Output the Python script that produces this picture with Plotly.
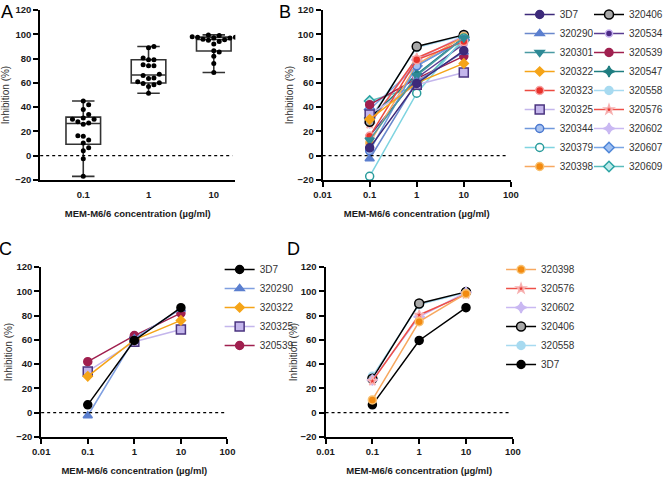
import numpy as np
import plotly.graph_objects as go

# ---------------- data ----------------
isolates = ["3D7", "320290", "320301", "320322", "320323", "320325", "320344", "320379", "320398",
            "320406", "320534", "320539", "320547", "320558", "320576", "320602", "320607", "320609"]
concentrations = [0.1, 1, 10]
conc_labels = ["0.1", "1", "10"]
inhibition_01 = [6.5, -2.5, 13, 30, 16, 34, 4, -17, 10.5, 28, 16.5, 42, 31, 30, 26, 27, 38, 45]
inhibition_1 = [59.5, 61, 66, 60, 79, 58.5, 74, 51.5, 75, 90, 64, 63.5, 67, 89, 80.5, 79, 74, 57]
inhibition_10 = [86.5, 85.5, 97, 76, 94, 68.5, 95.5, 97, 98, 99.5, 92, 82, 97.5, 99, 97.5, 99, 96, 95]
panel_c_isolates = ["3D7", "320290", "320322", "320325", "320539"]
panel_d_isolates = ["320398", "320576", "320602", "320406", "320558", "3D7"]
x_ticks = [0.01, 0.1, 1, 10, 100]
y_ticks = [-20, 0, 20, 40, 60, 80, 100, 120]

# ---------------- styles ----------------
S = {  # marker symbol, fill, border, line colour, size
    "3D7":    dict(sym="circle", fill="#3d2a7a", border="#3d2a7a", line="#3d2a7a", size=8),
    "320290": dict(sym="triangle-up", fill="#5b7fcf", border="#5b7fcf", line="#6a88cc", size=8),
    "320301": dict(sym="triangle-down", fill="#2f8a96", border="#2f8a96", line="#4a9aa3", size=8),
    "320322": dict(sym="diamond", fill="#f5a418", border="#f5a418", line="#f5a418", size=7),
    "320323": dict(sym="circle", fill="#e8322b", border="#f6a0a0", line="#ec4a40", size=8),
    "320325": dict(sym="square", fill="#c4b6ec", border="#4b3580", line="#c4b6ec", size=9),
    "320344": dict(sym="circle", fill="#a9c3f0", border="#4a78cf", line="#6f98dc", size=8),
    "320379": dict(sym="circle", fill="#ffffff", border="#2a9c9c", line="#7fd4e0", size=8),
    "320398": dict(sym="circle", fill="#f28a10", border="#f8c070", line="#f7a860", size=8),
    "320406": dict(sym="circle", fill="#a8a8a8", border="#000000", line="#000000", size=9),
    "320534": dict(sym="circle", fill="#4b2a86", border="#c7b3ef", line="#5a3c92", size=7),
    "320539": dict(sym="circle", fill="#a0204f", border="#a0204f", line="#a0204f", size=8),
    "320547": dict(sym="star-diamond", fill="#1f7d80", border="#1f7d80", line="#1f7d80", size=8),
    "320558": dict(sym="circle", fill="#a7daf0", border="#a7daf0", line="#a7daf0", size=8),
    "320576": dict(sym="star", fill="#e8322b", border="#f7b0b0", line="#ee5048", size=7),
    "320602": dict(sym="star-diamond", fill="#c9b8f2", border="#c9b8f2", line="#c9b8f2", size=8),
    "320607": dict(sym="diamond", fill="#9fc0f2", border="#4f86d8", line="#7aa6e4", size=8),
    "320609": dict(sym="diamond", fill="#bdeaea", border="#2aa3a3", line="#5cbcbc", size=8),
}
C_OVERRIDE = {"3D7": dict(fill="#000000", border="#000000", line="#000000"),
              "320290": dict(line="#7f9fe0")}
D_OVERRIDE = {"3D7": dict(fill="#000000", border="#000000", line="#000000")}

FONT = "Liberation Sans, Arial, sans-serif"
W, H = 668, 481

def px_x(a, b):
    return [a / W, b / W]

def px_y(top, bottom):
    return [1 - bottom / H, 1 - top / H]

values = {iso: [inhibition_01[i], inhibition_1[i], inhibition_10[i]] for i, iso in enumerate(isolates)}

fig = go.Figure()

# ---------------- panel A: box + scatter ----------------
cols = [inhibition_01, inhibition_1, inhibition_10]
q1, med, q3, lo, hi = [], [], [], [], []
for c in cols:
    a = np.array(c, dtype=float)
    q1.append(float(np.percentile(a, 25, method="weibull")))
    med.append(float(np.percentile(a, 50, method="weibull")))
    q3.append(float(np.percentile(a, 75, method="weibull")))
    lo.append(float(a.min()))
    hi.append(float(a.max()))
cat_pos = list(range(len(concentrations)))
fig.add_trace(go.Box(x=cat_pos, q1=q1, median=med, q3=q3, lowerfence=lo, upperfence=hi,
                     width=0.53, whiskerwidth=0.65, fillcolor="white",
                     line=dict(color="#333333", width=1.6), boxpoints=False,
                     showlegend=False, xaxis="x", yaxis="y", hoverinfo="skip"))

# beeswarm offsets computed from the data
px_cat, px_unit, dot = 66.5, 170 / 140, 5.0
bx, by = [], []
for ci, c in enumerate(cols):
    placed = []
    for v in sorted(c):
        cands = [0]
        for j in range(1, 12):
            cands += [j * 5.5, -j * 5.5]
        for off in cands:
            ok = all(((off - po) ** 2 + ((v - pv) * px_unit) ** 2) ** 0.5 >= dot for po, pv in placed)
            if ok:
                placed.append((off, v))
                break
    for off, v in placed:
        bx.append(ci + off / px_cat)
        by.append(v)
fig.add_trace(go.Scatter(x=bx, y=by, mode="markers", marker=dict(color="black", size=5),
                         showlegend=False, xaxis="x", yaxis="y", hoverinfo="skip"))

# ---------------- line panels ----------------
def add_series(iso, rank, xa, ya, legend, override=None):
    st = dict(S[iso])
    if override and iso in override:
        st.update(override[iso])
    fig.add_trace(go.Scatter(
        x=concentrations, y=values[iso], mode="lines+markers", name=iso, legendrank=rank,
        line=dict(color=st["line"], width=1.5),
        marker=dict(symbol=st["sym"], color=st["fill"], size=st["size"],
                    line=dict(color=st["border"], width=1.5)),
        xaxis=xa, yaxis=ya, legend=legend))

# first data set drawn on top (added last)
for i, iso in reversed(list(enumerate(isolates))):
    add_series(iso, i, "x2", "y2", "legend" if i < 9 else "legend2")
for i, iso in reversed(list(enumerate(panel_c_isolates))):
    add_series(iso, i, "x3", "y3", "legend3", C_OVERRIDE)
for i, iso in reversed(list(enumerate(panel_d_isolates))):
    add_series(iso, i, "x4", "y4", "legend4", D_OVERRIDE)

# ---------------- axes ----------------
tickfont = dict(family=FONT, size=9.5, color="#1a1a1a", weight="bold")
def yax(domain, anchor, standoff=6):
    return dict(domain=domain, anchor=anchor, range=[-20, 120], tickvals=y_ticks, automargin=False,
                showline=True, linewidth=2, linecolor="black", ticks="outside", ticklen=5,
                tickwidth=2, tickcolor="black", showgrid=False, zeroline=False, tickfont=tickfont,
                title=dict(text="Inhibition (%)", font=dict(family=FONT, size=10, color="#333333"),
                           standoff=standoff))
def xlog(domain, anchor):
    return dict(domain=domain, anchor=anchor, type="log", range=[-2, 2], tickvals=x_ticks,
                ticktext=[str(t) if t < 1 else str(int(t)) for t in x_ticks], automargin=False,
                showline=True, linewidth=2, linecolor="black", ticks="outside", ticklen=5,
                tickwidth=2, tickcolor="black", showgrid=False, zeroline=False, tickfont=tickfont,
                title=dict(text="MEM-M6/6 concentration (µg/ml)",
                           font=dict(family=FONT, size=9.5, color="#1a1a1a", weight="bold"),
                           standoff=11))

top_y = px_y(10, 180)
bot_y = px_y(267, 437)
xa = xlog(px_x(41, 240), "y")
xa.update(type="linear", range=[-0.66, 2.33], tickvals=cat_pos, ticktext=conc_labels,
          tickcolor="rgba(0,0,0,0)")
fig.update_layout(
    xaxis=xa, yaxis=yax(top_y, "x"),
    xaxis2=xlog(px_x(329, 521), "y2"), yaxis2=yax(top_y, "x2", 2),
    xaxis3=xlog(px_x(42, 232), "y3"), yaxis3=yax(bot_y, "x3", 2),
    xaxis4=xlog(px_x(332, 523), "y4"), yaxis4=yax(bot_y, "x4", 1),
)

# dotted zero lines
for xr, yr in [("x", "y"), ("x2", "y2"), ("x3", "y3"), ("x4", "y4")]:
    fig.add_shape(type="line", xref=xr + " domain", yref=yr, x0=0, x1=0.985, y0=0, y1=0,
                  line=dict(color="black", width=1.3, dash="dot"))

# panel letters
for letter, x, y in [("A", 7, 12), ("B", 291, 12), ("C", 6, 249), ("D", 299, 249)]:
    fig.add_annotation(text=letter, x=x / W, y=1 - y / H, xref="paper", yref="paper",
                       xanchor="center", yanchor="middle",
                       showarrow=False, font=dict(family=FONT, size=18, color="black"))

leg = dict(font=dict(family=FONT, size=10, color="#333333"), bgcolor="rgba(0,0,0,0)",
           xanchor="left", yanchor="top", itemclick=False, itemdoubleclick=False)
fig.update_layout(
    legend=dict(leg, x=530 / W, y=1.0),
    legend2=dict(leg, x=601 / W, y=1.0),
    legend3=dict(leg, x=224 / W, y=1 - 255 / H),
    legend4=dict(leg, x=511 / W, y=1 - 255 / H),
    width=W, height=H, margin=dict(l=0, r=0, t=0, b=0),
    plot_bgcolor="white", paper_bgcolor="white", showlegend=True,
)

fig.write_html("out.html", config={"staticPlot": True, "displayModeBar": False},
               post_script="document.body.style.margin='0px';")
